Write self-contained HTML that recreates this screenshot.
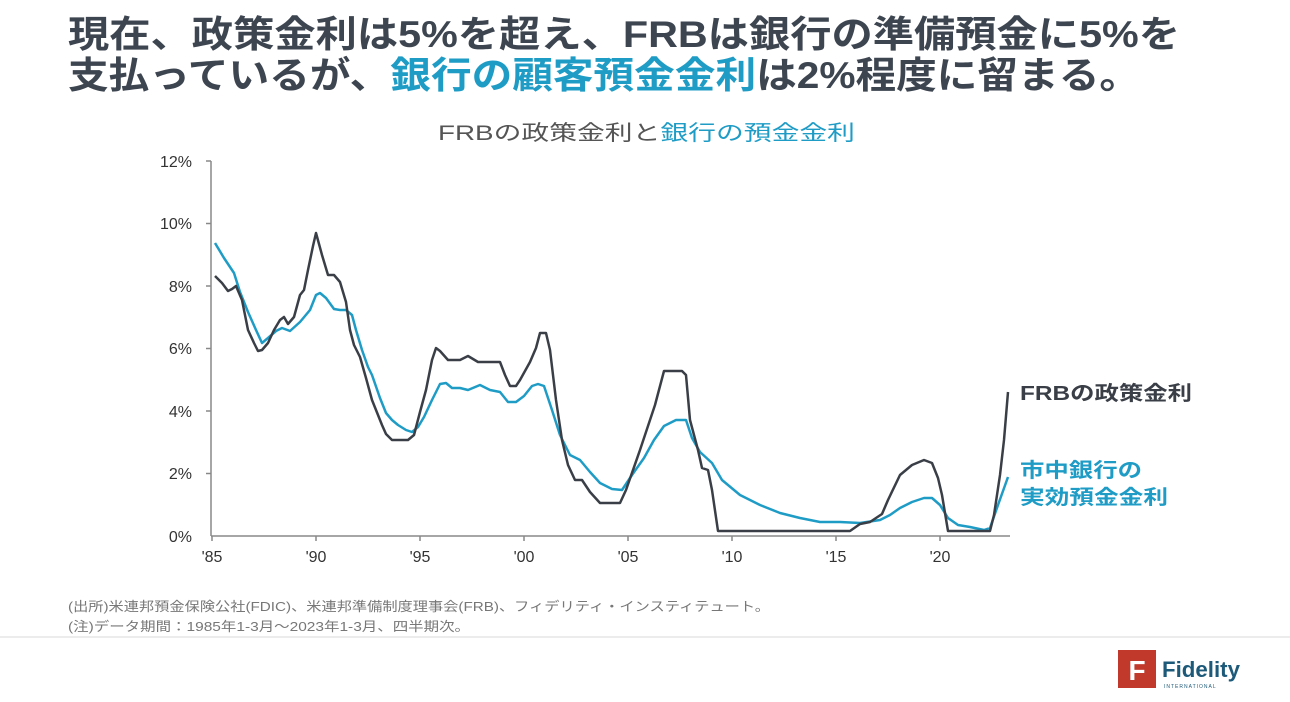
<!DOCTYPE html>
<html><head><meta charset="utf-8"><style>
body{margin:0;width:1290px;height:702px;background:#fff;overflow:hidden;font-family:"Liberation Sans","Noto Sans CJK JP",sans-serif;position:relative}
</style></head><body>
<svg width="1290" height="702" style="position:absolute;left:0;top:0" font-family="Liberation Sans, Noto Sans CJK JP, sans-serif">
<g font-size="37" font-weight="bold" fill="#3d4550">
<text x="68" y="47" textLength="1112" lengthAdjust="spacingAndGlyphs">現在、政策金利は5%を超え、FRBは銀行の準備預金に5%を</text>
<text x="68" y="88" textLength="1072" lengthAdjust="spacingAndGlyphs">支払っているが、<tspan fill="#1f9cc6">銀行の顧客預金金利</tspan>は2%程度に留まる。</text>
</g>
<text x="438" y="140" font-size="21" fill="#555" textLength="417" lengthAdjust="spacingAndGlyphs">FRBの政策金利と<tspan fill="#1f9cc6">銀行の預金金利</tspan></text>
<g stroke="#888" stroke-width="1.5" fill="none">
<line x1="211" y1="161" x2="211" y2="536"/><line x1="211" y1="536" x2="1010" y2="536"/>
<line x1="206" y1="161" x2="211" y2="161"/><line x1="206" y1="223.5" x2="211" y2="223.5"/><line x1="206" y1="286" x2="211" y2="286"/><line x1="206" y1="348.5" x2="211" y2="348.5"/><line x1="206" y1="411" x2="211" y2="411"/><line x1="206" y1="473.5" x2="211" y2="473.5"/>
<line x1="212" y1="536" x2="212" y2="541"/><line x1="316" y1="536" x2="316" y2="541"/><line x1="420" y1="536" x2="420" y2="541"/><line x1="524" y1="536" x2="524" y2="541"/><line x1="628" y1="536" x2="628" y2="541"/><line x1="732" y1="536" x2="732" y2="541"/><line x1="836" y1="536" x2="836" y2="541"/><line x1="940" y1="536" x2="940" y2="541"/>
</g>
<g font-size="16" fill="#333" text-anchor="end">
<text x="192" y="167">12%</text><text x="192" y="229">10%</text><text x="192" y="292">8%</text><text x="192" y="354">6%</text><text x="192" y="417">4%</text><text x="192" y="479">2%</text><text x="192" y="542">0%</text>
</g>
<g font-size="16" fill="#333" text-anchor="middle">
<text x="212" y="562">'85</text><text x="316" y="562">'90</text><text x="420" y="562">'95</text><text x="524" y="562">'00</text><text x="628" y="562">'05</text><text x="732" y="562">'10</text><text x="836" y="562">'15</text><text x="940" y="562">'20</text>
</g>
<polyline fill="none" stroke="#1f9cc6" stroke-width="2.5" stroke-linejoin="round" points="215,243 224,258 234,273 240,292 248,312 256,330 262,343 268,338 276,331 282,328 290,331 300,322 310,310 316,295 320,293 326,298 334,309 340,310 346,310 352,315 356,330 362,350 368,367 372,375 380,398 386,413 392,420 398,425 406,430 412,432 418,427 424,417 432,400 440,384 446,383 452,388 460,388 468,390 480,385 490,390 500,392 508,402 516,402 524,396 532,386 538,384 544,386 552,410 560,435 570,455 580,460 590,472 600,483 612,489 622,490 632,475 644,458 654,440 664,426 676,420 686,420 692,438 700,452 712,463 722,480 740,495 760,505 780,513 800,518 820,522 840,522 860,523 880,520 890,515 900,508 912,502 924,498 932,498 940,505 948,518 958,525 970,527 984,530 990,528 998,505 1008,477"/>
<polyline fill="none" stroke="#3a3f47" stroke-width="2.5" stroke-linejoin="round" points="215,276 222,283 228,291 232,289 236,286 242,300 248,330 254,343 258,351 262,350 268,343 274,330 280,320 284,317 288,324 294,317 300,295 304,290 308,270 313,246 316,233 322,255 328,275 334,275 340,282 346,302 350,330 354,345 360,357 366,378 372,400 378,415 382,425 386,434 392,440 400,440 408,440 414,435 420,412 426,390 432,360 436,348 440,351 448,360 460,360 468,356 478,362 500,362 505,375 510,386 516,386 520,380 530,362 536,348 540,333 546,333 550,350 556,400 562,440 568,465 575,480 582,480 590,492 600,503 610,503 620,503 626,490 640,450 655,405 664,371 668,371 682,371 686,375 690,420 698,450 702,468 708,470 712,490 718,531 730,531 850,531 860,524 870,522 882,514 888,500 900,475 912,465 924,460 932,463 938,478 942,495 948,531 990,531 994,515 1000,475 1004,440 1008,392"/>
<g font-size="20" font-weight="bold">
<text x="1020" y="400" fill="#3a3f47" textLength="172" lengthAdjust="spacingAndGlyphs">FRBの政策金利</text>
<text x="1020" y="477" fill="#1f9cc6" textLength="122" lengthAdjust="spacingAndGlyphs">市中銀行の</text>
<text x="1020" y="504" fill="#1f9cc6" textLength="148" lengthAdjust="spacingAndGlyphs">実効預金金利</text>
</g>
<g font-size="13" fill="#777">
<text x="68" y="611" textLength="702" lengthAdjust="spacingAndGlyphs">(出所)米連邦預金保険公社(FDIC)、米連邦準備制度理事会(FRB)、フィデリティ・インスティテュート。</text>
<text x="68" y="631" textLength="402" lengthAdjust="spacingAndGlyphs">(注)データ期間：1985年1-3月～2023年1-3月、四半期次。</text>
</g>
<line x1="0" y1="637" x2="1290" y2="637" stroke="#e6e6e6" stroke-width="1.5"/>
<rect x="1118" y="650" width="38" height="38" fill="#c0392b"/>
<text x="1137" y="680" font-size="28" font-weight="bold" fill="#fff" text-anchor="middle">F</text>
<text x="1162" y="677" font-size="22" font-weight="bold" fill="#1d5a7a" textLength="78" lengthAdjust="spacingAndGlyphs">Fidelity</text>
<text x="1164" y="688" font-size="5" fill="#1d5a7a" letter-spacing="1">INTERNATIONAL</text>
</svg>
</body></html>
